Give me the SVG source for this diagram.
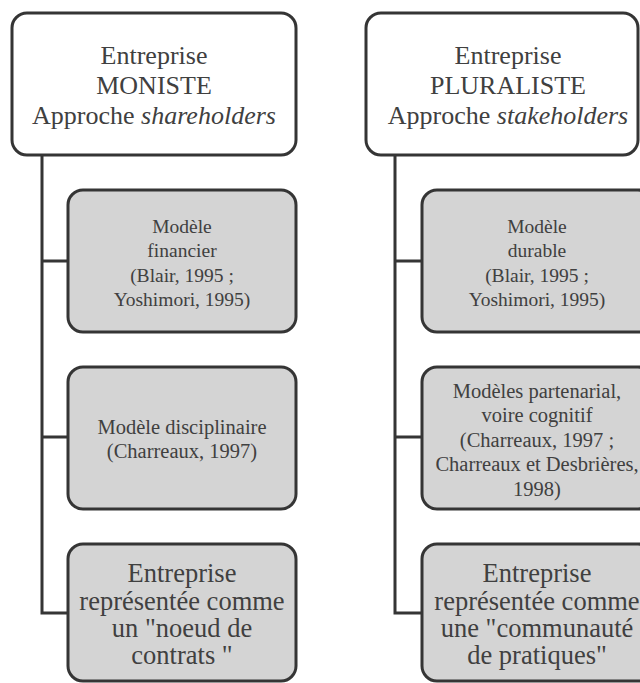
<svg xmlns="http://www.w3.org/2000/svg" width="640" height="683" viewBox="0 0 640 683">
<style>
.top{fill:#ffffff;stroke:#353535;stroke-width:3}
.box{fill:#d4d4d4;stroke:#353535;stroke-width:3}
.conn{fill:none;stroke:#353535;stroke-width:3}
text{font-family:"Liberation Serif","Times New Roman",serif;fill:#404040;text-anchor:middle}
.t26{font-size:26px}
.t195{font-size:19.5px}
.t205{font-size:20.5px}
.t265{font-size:26.5px}
.it{font-style:italic}
</style>
<rect width="640" height="683" fill="#ffffff"/>
<g id="connectors">
<path class="conn" d="M42,155 V613 H68 M42,261 H68 M42,437 H68"/>
<path class="conn" d="M395,155 V613 H422 M395,261 H422 M395,437 H422"/>
</g>
<g id="moniste">
<rect class="top" x="12" y="13" width="284" height="142" rx="15"/>
<text class="t26" x="154" y="64">Entreprise</text>
<text class="t26" x="154" y="94">MONISTE</text>
<text class="t26" x="154" y="124">Approche <tspan class="it">shareholders</tspan></text>
</g>
<g id="financier">
<rect class="box" x="68" y="190" width="228" height="142" rx="15"/>
<text class="t195" x="182" y="233">Modèle</text>
<text class="t195" x="182" y="257">financier</text>
<text class="t195" x="182" y="282">(Blair, 1995 ;</text>
<text class="t195" x="182" y="306">Yoshimori, 1995)</text>
</g>
<g id="disciplinaire">
<rect class="box" x="68" y="367" width="228" height="142" rx="15"/>
<text class="t205" x="182" y="434">Modèle disciplinaire</text>
<text class="t205" x="182" y="458">(Charreaux, 1997)</text>
</g>
<g id="contrats">
<rect class="box" x="68" y="544" width="228" height="137" rx="15"/>
<text class="t265" x="182" y="582">Entreprise</text>
<text class="t265" x="182" y="610">représentée comme</text>
<text class="t265" x="182" y="637">un "noeud de</text>
<text class="t265" x="182" y="664">contrats "</text>
</g>
<g id="pluraliste">
<rect class="top" x="366" y="13" width="272" height="142" rx="15"/>
<text class="t26" x="508" y="64">Entreprise</text>
<text class="t26" x="508" y="94">PLURALISTE</text>
<text class="t26" x="508" y="124">Approche <tspan class="it">stakeholders</tspan></text>
</g>
<g id="durable">
<rect class="box" x="422" y="190" width="231" height="142" rx="15"/>
<text class="t195" x="537" y="233">Modèle</text>
<text class="t195" x="537" y="257">durable</text>
<text class="t195" x="537" y="282">(Blair, 1995 ;</text>
<text class="t195" x="537" y="306">Yoshimori, 1995)</text>
</g>
<g id="partenarial">
<rect class="box" x="422" y="367" width="231" height="142" rx="15"/>
<text class="t205" x="537" y="398">Modèles partenarial,</text>
<text class="t205" x="537" y="422">voire cognitif</text>
<text class="t205" x="537" y="447">(Charreaux, 1997 ;</text>
<text class="t205" x="537" y="471">Charreaux et Desbrières,</text>
<text class="t205" x="537" y="496">1998)</text>
</g>
<g id="communaute">
<rect class="box" x="422" y="544" width="231" height="137" rx="15"/>
<text class="t265" x="537" y="582">Entreprise</text>
<text class="t265" x="537" y="610">représentée comme</text>
<text class="t265" x="537" y="637">une "communauté</text>
<text class="t265" x="537" y="664">de pratiques"</text>
</g>
</svg>
